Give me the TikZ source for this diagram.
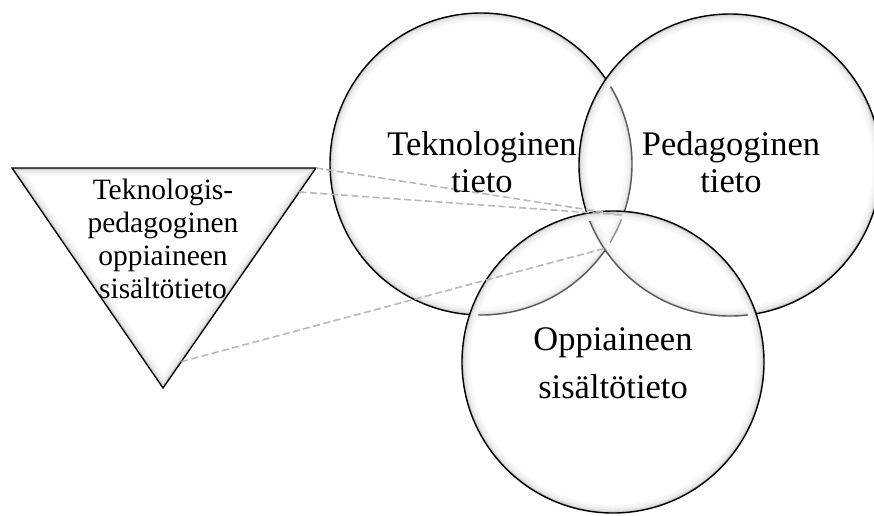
\documentclass[tikz,border=0pt]{standalone}
\usepackage{fontspec}
\setmainfont{Liberation Serif}
\usetikzlibrary{calc}
\begin{document}
\begin{tikzpicture}[x=1pt,y=-1pt,
  ringglow/.style={path picture={
      \foreach \w/\c in {16/3,11/6,7/10,4/16,2/28}{
        \draw[line width=\w pt, black!\c] (path picture bounding box.center) circle[radius=151pt];}
    }},
  ring/.style={circle, minimum size=302pt, inner sep=0pt, draw=black, line width=1.4pt,
    fill=white, fill opacity=0.35, ringglow},
  dashline/.style={draw=black!28, dash pattern=on 7pt off 3.5pt, line width=1.6pt},
  bigtext/.style={font=\fontsize{34.5}{37}\selectfont, align=center, inner sep=0pt, anchor=base},
  tritext/.style={font=\fontsize{29.5}{33}\selectfont, align=center, inner sep=0pt, anchor=base},
]
\useasboundingbox (0,0) rectangle (874,515);

% circles
\node[ring] (c1) at (481,164) {};
\node[ring] (c2) at (730,165) {};
\node[ring] (c3) at (613,362) {};

% triangle
\coordinate (tl) at (12,168);
\coordinate (tr) at (316,168);
\coordinate (tb) at (163,388);
\begin{scope}
  \clip (tl) -- (tr) -- (tb) -- cycle;
  \foreach \w/\c in {16/3,11/6,7/10,4/16,2/28}{
    \draw[line width=\w pt, black!\c, line join=miter] (tl) -- (tr) -- (tb) -- cycle;}
\end{scope}
\draw[line width=1.3pt, line join=miter] (tl) -- (tr) -- (tb) -- cycle;

% dashed connectors
\coordinate (s2) at ($(tr)!0.109!(tb)$);
\coordinate (s3) at ($(tr)!0.88!(tb)$);
\coordinate (e1) at (622,215);
\coordinate (e3) at (606,248);
\draw[dashline] (tr) -- (e1);
\draw[dashline] (s2) -- (e1);
\draw[dashline] (s3) -- (e3);

% texts (anchor=base is the baseline of the last line)
\node[bigtext] (t1) at (482,192) {Teknologinen\\tieto};
\node[bigtext] (t2) at (731,192) {Pedagoginen\\tieto};
\node[bigtext, font=\fontsize{34.5}{48}\selectfont] (t3) at (613,398) {Oppiaineen\\sisältötieto};
\node[tritext] (t4) at (163,298) {Teknologis-\\pedagoginen\\oppiaineen\\sisältötieto};
\end{tikzpicture}
\end{document}
